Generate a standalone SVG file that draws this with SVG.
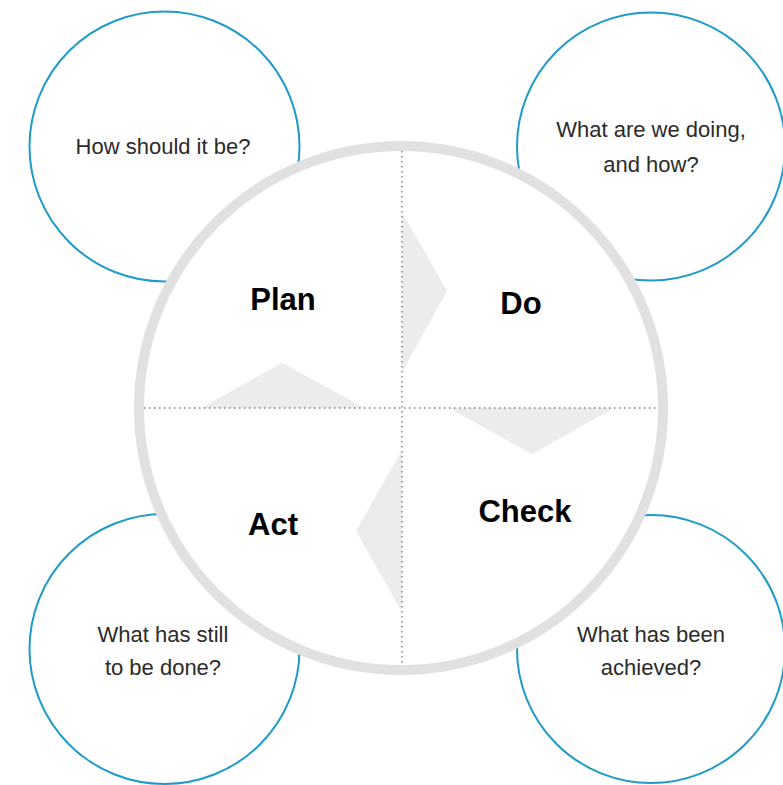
<svg xmlns="http://www.w3.org/2000/svg" width="783" height="785" viewBox="0 0 783 785">
  <style>
    .bubble { fill: #ffffff; stroke: #1e9bc9; stroke-width: 2; }
    .ring { fill: #ffffff; stroke: #e1e1e1; stroke-width: 10; }
    .axis { stroke: #7a7a7a; stroke-width: 1.4; stroke-dasharray: 1.4 3.6; fill: none; }
    .flow { fill: #ececec; }
    .q { font-family: "Liberation Sans", Arial, Helvetica, sans-serif; font-size: 22px; fill: #2b2b2b; text-anchor: middle; }
    .stage { font-family: "Liberation Sans", Arial, Helvetica, sans-serif; font-size: 31px; font-weight: bold; fill: #000000; text-anchor: middle; }
  </style>

  <rect width="783" height="785" fill="#ffffff"/>

  <!-- question bubbles (behind the cycle wheel) -->
  <g id="q-plan">
    <circle class="bubble" cx="164.5" cy="146.5" r="135"/>
    <text class="q" x="163" y="154">How should it be?</text>
  </g>
  <g id="q-do">
    <circle class="bubble" cx="651" cy="146.5" r="134"/>
    <text class="q" x="651" y="137">What are we doing,</text>
    <text class="q" x="651" y="172">and how?</text>
  </g>
  <g id="q-act">
    <circle class="bubble" cx="164.5" cy="649" r="135"/>
    <text class="q" x="163" y="642">What has still</text>
    <text class="q" x="163" y="675">to be done?</text>
  </g>
  <g id="q-check">
    <circle class="bubble" cx="651" cy="649" r="134"/>
    <text class="q" x="651" y="642">What has been</text>
    <text class="q" x="651" y="675">achieved?</text>
  </g>

  <!-- PDCA wheel -->
  <g id="wheel">
    <circle class="ring" cx="401" cy="408" r="262"/>
  </g>

  <!-- cycle direction arrows and quadrant dividers -->
  <g id="connectors">
    <polygon class="flow" points="402,212 447,291 402,372"/>
    <polygon class="flow" points="449,408 532,454 614,408"/>
    <polygon class="flow" points="402,450 356,531 402,612"/>
    <polygon class="flow" points="201,408 282,363 365,408"/>
    <line class="axis" x1="402" y1="151" x2="402" y2="665"/>
    <line class="axis" x1="144" y1="408" x2="659" y2="408"/>
  </g>

  <g id="stage-plan"><text class="stage" x="283" y="310">Plan</text></g>
  <g id="stage-do"><text class="stage" x="521" y="314">Do</text></g>
  <g id="stage-check"><text class="stage" x="525" y="522">Check</text></g>
  <g id="stage-act"><text class="stage" x="273" y="535">Act</text></g>
</svg>
